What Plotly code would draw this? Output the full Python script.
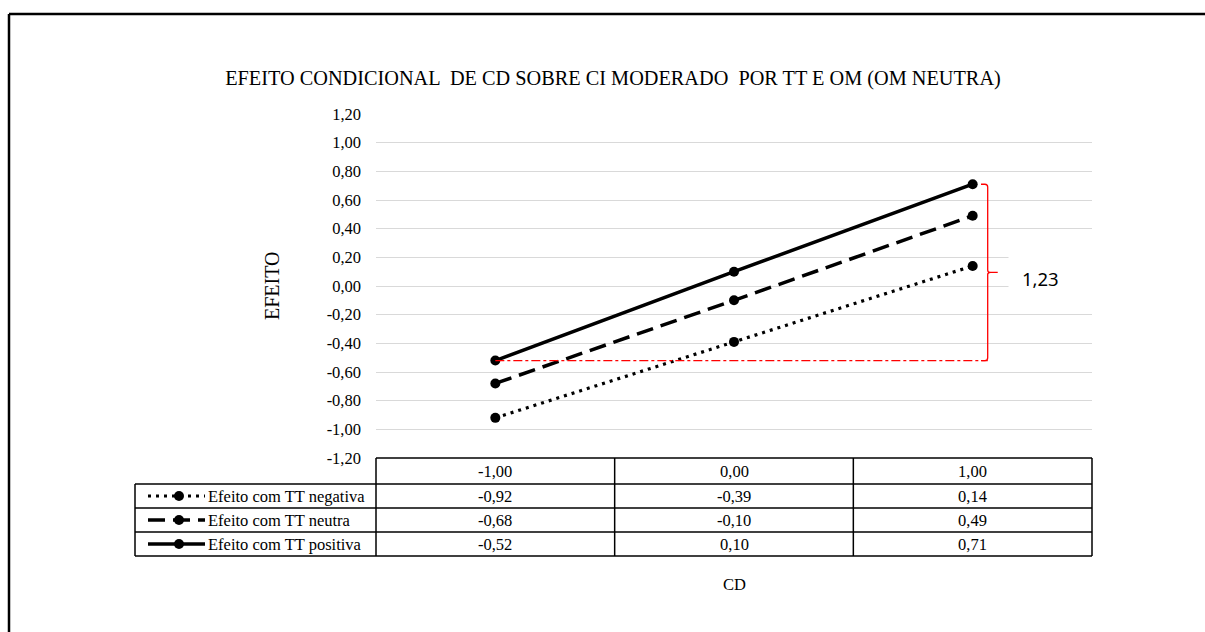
import plotly.graph_objects as go

# ---------------- data ----------------
categories = ["-1,00", "0,00", "1,00"]
cd_values = [-1.0, 0.0, 1.0]
series_names = ["Efeito com TT negativa", "Efeito com TT neutra", "Efeito com TT positiva"]
tt_negativa = [-0.92, -0.39, 0.14]
tt_neutra = [-0.68, -0.10, 0.49]
tt_positiva = [-0.52, 0.10, 0.71]
y_ticks = [-1.2, -1.0, -0.8, -0.6, -0.4, -0.2, 0.0, 0.2, 0.4, 0.6, 0.8, 1.0, 1.2]

title_text = "EFEITO CONDICIONAL  DE CD SOBRE CI MODERADO  POR TT E OM (OM NEUTRA)"
y_title = "EFEITO"
x_title = "CD"


def fmt(v):
    return f"{v:.2f}".replace(".", ",")


# ---------------- geometry ----------------
W, H = 1205, 632
L, R, T, B = 376, 113, 114, 174
PW, PH = W - L - R, H - T - B
SERIF = "Liberation Serif, Times New Roman, serif"
FS = 16.5


def px(xp):
    return (xp - L) / PW


def py(yp):
    return (H - B - yp) / PH


series = [tt_negativa, tt_neutra, tt_positiva]
dashes = ["3px,5px", "17px,8px", "solid"]
widths = [3.2, 3.5, 3.5]

fig = go.Figure()
xs = list(range(len(categories)))
for name, vals, d, w in zip(series_names, series, dashes, widths):
    fig.add_trace(go.Scatter(
        x=xs, y=vals, mode="lines+markers", name=name,
        line=dict(color="black", width=w, dash=d),
        marker=dict(color="black", size=10, symbol="circle"),
        showlegend=False, cliponaxis=False,
    ))

shapes = []
annotations = []
LINE = dict(color="black", width=1.5)

# table geometry (pixels)
table_top = H - B
header_h = 26
row_h = 24
legend_left = 135
rows_y = [table_top + header_h + i * row_h for i in range(len(series) + 1)]
table_bottom = rows_y[-1]

# horizontal lines
shapes.append(dict(type="line", xref="paper", yref="paper", x0=0, x1=1,
                   y0=py(table_top), y1=py(table_top), line=LINE))
for yy in rows_y:
    shapes.append(dict(type="line", xref="paper", yref="paper", x0=px(legend_left), x1=1,
                       y0=py(yy), y1=py(yy), line=LINE))
# vertical lines
shapes.append(dict(type="line", xref="paper", yref="paper", x0=px(legend_left), x1=px(legend_left),
                   y0=py(rows_y[0]), y1=py(table_bottom), line=LINE))
for k in range(len(categories) + 1):
    xx = k / len(categories)
    shapes.append(dict(type="line", xref="paper", yref="paper", x0=xx, x1=xx,
                       y0=py(table_top), y1=py(table_bottom), line=LINE))

TXT = dict(family=SERIF, size=FS, color="black")
# header cells
for i, c in enumerate(categories):
    annotations.append(dict(x=xs[i], xref="x", y=py(table_top + header_h / 2), yref="paper",
                            xanchor="center", yanchor="middle", text=c, showarrow=False, font=TXT))
# data cells and legend keys
for r, (name, vals, d, w) in enumerate(zip(series_names, series, dashes, widths)):
    yc = (rows_y[r] + rows_y[r + 1]) / 2
    for i, v in enumerate(vals):
        annotations.append(dict(x=xs[i], xref="x", y=py(yc), yref="paper", xanchor="center",
                                yanchor="middle", text=fmt(v), showarrow=False, font=TXT))
    shapes.append(dict(type="line", xref="paper", yref="paper", x0=px(148), x1=px(205),
                       y0=py(yc), y1=py(yc), line=dict(color="black", width=w, dash=d)))
    shapes.append(dict(type="circle", xref="paper", yref="paper", x0=px(174), x1=px(184),
                       y0=py(yc + 5), y1=py(yc - 5), fillcolor="black", line=dict(width=0)))
    annotations.append(dict(x=px(206), xref="paper", y=py(yc), yref="paper", text=name,
                            xanchor="left", yanchor="middle", showarrow=False, font=TXT))

# red bracket showing difference in positive-TT effect
lo, hi = tt_positiva[0], tt_positiva[-1]
mid = (lo + hi) / 2
bx = xs[-1] + 0.063   # vertical of brace
bx0 = xs[-1] + 0.035  # hook ends
bxn = xs[-1] + 0.105  # notch tip
shapes.append(dict(type="line", xref="x", yref="y", x0=xs[0], x1=bx, y0=lo, y1=lo,
                   line=dict(color="red", width=1.3, dash="dashdot")))
r = 0.012
path = (f"M {bx0},{hi} L {bx - r},{hi} Q {bx},{hi} {bx},{hi - 0.02} "
        f"L {bx},{mid + 0.015} Q {bx},{mid} {bx + r},{mid} L {bxn},{mid} "
        f"M {bx + r},{mid} Q {bx},{mid} {bx},{mid - 0.015} "
        f"L {bx},{lo + 0.02} Q {bx},{lo} {bx - r},{lo} L {bx0},{lo}")
shapes.append(dict(type="path", xref="x", yref="y", path=path,
                   line=dict(color="red", width=1.3)))

# white box behind the difference label
annotations.append(dict(x=px(1008), xref="paper", y=py(272), yref="paper", text=" ",
                        xanchor="left", yanchor="middle", showarrow=False,
                        width=110, height=44, bgcolor="white"))
annotations.append(dict(x=px(1040), xref="paper", y=py(278), yref="paper", text=fmt(hi - lo),
                        xanchor="center", yanchor="middle", showarrow=False,
                        font=dict(family="Noto Sans, Open Sans, sans-serif", size=18.5, color="black")))

# axis titles
annotations.append(dict(x=px(272), xref="paper", y=0.5, yref="paper", text=y_title, textangle=-90,
                        xanchor="center", yanchor="middle", showarrow=False,
                        font=dict(family=SERIF, size=20, color="black")))
annotations.append(dict(x=0.5, xref="paper", y=py(584), yref="paper", text=x_title,
                        xanchor="center", yanchor="middle", showarrow=False, font=TXT))

# outer frame
shapes.append(dict(type="line", xref="paper", yref="paper", x0=px(9), x1=px(1210),
                   y0=py(14), y1=py(14), line=dict(color="black", width=2.5)))
shapes.append(dict(type="line", xref="paper", yref="paper", x0=px(9), x1=px(9),
                   y0=py(14), y1=py(640), line=dict(color="black", width=2.5)))

fig.update_layout(
    width=W, height=H, autosize=False,
    margin=dict(l=L, r=R, t=T, b=B, pad=0),
    paper_bgcolor="white", plot_bgcolor="white",
    title=dict(text=title_text, x=613 / W, xanchor="center", xref="container",
               y=1 - 78 / H, yanchor="middle", yref="container",
               font=dict(family=SERIF, size=20.3, color="black")),
    xaxis=dict(range=[-0.5, len(categories) - 0.5], showticklabels=False, showgrid=False,
               zeroline=False, showline=False, ticks=""),
    yaxis=dict(range=[y_ticks[0], y_ticks[-1]], tickvals=y_ticks, ticktext=[fmt(v) for v in y_ticks],
               showgrid=True, gridcolor="#d9d9d9", gridwidth=1, zeroline=False, showline=False,
               ticks="", ticklabelstandoff=14,
               tickfont=dict(family=SERIF, size=FS, color="black")),
    shapes=shapes, annotations=annotations, showlegend=False,
)

fig.write_html("out.html", config={"displayModeBar": False},
               post_script="document.body.style.margin='0';")
